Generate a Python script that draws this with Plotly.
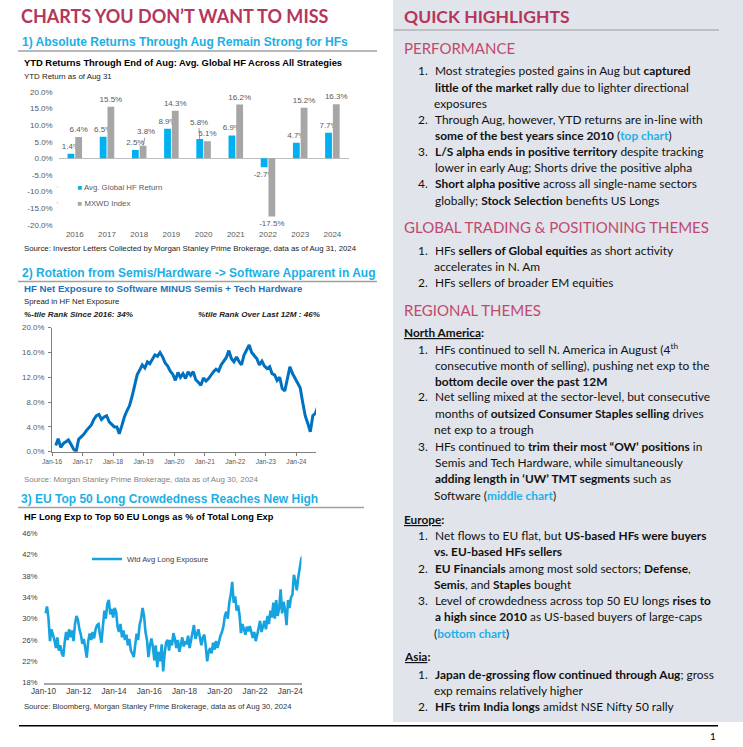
import plotly.graph_objects as go
import pandas as pd

W, H = 743, 747

# ---------------- DATA ----------------
years = ["2016", "2017", "2018", "2019", "2020", "2021", "2022", "2023", "2024"]
hf_return = [1.4, 6.5, 2.5, 8.9, 5.8, 6.9, -2.7, 4.7, 7.7]
mxwd_index = [6.4, 15.5, 3.8, 14.3, 5.1, 16.2, -17.5, 15.2, 16.3]
# labels that sit lifted off their bar with a short leader line (series, year)
lifted_labels = [("hf", "2020"), ("mx", "2018")]

# HF net exposure spread (Software minus Semis+Tech HW), monthly Jan-16 .. Aug-24
spread_values = [
    1.0, 2.1, 0.7, 1.3, 1.6, 1.9, 1.2, 0.4, 0.0, 2.0, 2.4, 2.8,          # 2016
    3.4, 3.9, 4.3, 5.2, 5.8, 6.0, 5.2, 5.6, 5.8, 4.8, 4.4, 4.0,          # 2017
    4.0, 2.9, 4.2, 5.6, 6.6, 7.4, 8.9, 10.8, 12.4, 13.2, 14.0, 13.5,     # 2018
    14.5, 14.2, 15.0, 15.6, 15.4, 16.0, 15.3, 14.3, 13.8, 13.0, 12.5, 11.5,  # 2019
    12.8, 12.0, 12.6, 11.8, 12.9, 12.3, 12.9, 11.6, 11.2, 10.7, 11.9, 11.4,  # 2020
    11.8, 12.4, 12.9, 13.3, 13.0, 14.0, 14.6, 15.2, 16.3, 15.0, 14.5, 15.3,  # 2021
    14.5, 14.0, 15.6, 16.4, 17.2, 16.0, 15.5, 15.0, 14.0, 14.6, 13.8, 13.4,  # 2022
    13.7, 12.6, 12.4, 11.5, 12.0, 10.2, 9.8, 12.0, 13.7, 12.6, 11.8, 11.2,   # 2023
    10.3, 8.0, 5.8, 4.6, 3.2, 5.8, 6.2, 7.4,                                 # 2024
]
spread_start = "2016-01-15"

# Wtd avg long exposure to top-50 EU longs (% of total long exp), monthly Jan-10 .. Aug-24
eu_long_exp = [
    31.0, 32.3, 30.0, 25.8, 28.0, 27.2, 26.0, 24.5, 26.5, 24.0, 25.0, 23.5,  # 2010
    22.9, 25.5, 27.5, 26.0, 28.0, 26.5, 27.8, 25.8, 29.0, 30.5, 29.8, 28.0,  # 2011
    27.0, 25.3, 26.2, 24.5, 22.7, 25.8, 27.2, 26.0, 27.5, 26.3, 28.0, 28.8,  # 2012
    29.0, 27.0, 25.5, 28.5, 31.5, 30.0, 32.8, 33.5, 30.8, 31.8, 30.2, 32.0,  # 2013
    31.2, 28.5, 27.5, 29.0, 26.5, 27.8, 26.0, 27.0, 25.0, 26.2, 24.0, 23.5,  # 2014
    22.8, 25.0, 27.2, 26.0, 28.8, 30.0, 32.0, 30.5, 27.5, 26.0, 22.8, 25.0,  # 2015
    26.3, 24.8, 22.2, 25.0, 20.9, 23.8, 22.0, 25.2, 20.1, 23.5, 25.5, 26.0,  # 2016
    24.0, 26.0, 25.0, 27.3, 26.2, 24.5, 26.0, 23.8, 25.0, 26.5, 24.8, 25.8,  # 2017
    25.2, 26.8, 24.5, 26.0, 27.5, 28.8, 26.2, 27.0, 28.0, 26.5, 25.0, 26.5,  # 2018
    27.0, 25.0, 22.0, 23.8, 24.5, 23.5, 25.5, 24.2, 25.8, 24.5, 26.0, 26.8,  # 2019
    27.5, 28.5, 30.5, 31.3, 30.0, 33.0, 34.5, 36.9, 33.0, 34.2, 31.5, 32.5,  # 2020
    30.5, 27.3, 29.0, 28.2, 27.0, 28.5, 27.6, 28.6, 27.2, 26.4, 27.5, 25.8,  # 2021
    27.0, 28.6, 29.6, 27.5, 28.4, 29.6, 28.0, 30.5, 29.0, 31.5, 30.2, 33.0,  # 2022
    30.0, 33.5, 30.5, 32.0, 35.5, 31.0, 33.2, 31.5, 28.8, 33.5, 32.0, 34.0,  # 2023
    34.5, 38.2, 37.0, 35.3, 37.8, 39.2, 41.3, 41.7,                          # 2024
]
eu_start = "2010-01-15"

chart1_ticks = [-20, -15, -10, -5, 0, 5, 10, 15, 20]
chart2_ticks = [0, 4, 8, 12, 16, 20]
chart3_ticks = [18, 22, 26, 30, 34, 38, 42, 46]

# ---------------- TEXT ----------------
perf_lines = [
    ("1.", "Most strategies posted gains in Aug but <b>captured</b>"),
    ("", "<b>little of the market rally</b> due to lighter directional"),
    ("", "exposures"),
    ("2.", "Through Aug, however, YTD returns are in-line with"),
    ("", "<b>some of the best years since 2010</b> (<b><span style='color:#1FB0E8'>top chart</span></b>)"),
    ("3.", "<b>L/S alpha ends in positive territory</b> despite tracking"),
    ("", "lower in early Aug; Shorts drive the positive alpha"),
    ("4.", "<b>Short alpha positive</b> across all single-name sectors"),
    ("", "globally; <b>Stock Selection</b> benefits US Longs"),
]
perf_y = [71, 87.3, 103.3, 119.3, 135.7, 152, 167.7, 183.7, 200]

glob_lines = [
    ("1.", "HFs <b>sellers of Global equities</b> as short activity"),
    ("", "accelerates in N. Am"),
    ("2.", "HFs sellers of broader EM equities"),
]
glob_y = [250.7, 266.7, 282.7]

na_lines = [
    ("1.", "HFs continued to sell N. America in August (4<sup>th</sup>"),
    ("", "consecutive month of selling), pushing net exp to the"),
    ("", "<b>bottom decile over the past 12M</b>"),
    ("2.", "Net selling mixed at the sector-level, but consecutive"),
    ("", "months of <b>outsized Consumer Staples selling</b> drives"),
    ("", "net exp to a trough"),
    ("3.", "HFs continued to <b>trim their most “OW’ positions</b> in"),
    ("", "Semis and Tech Hardware, while simultaneously"),
    ("", "<b>adding length in ‘UW’ TMT segments</b> such as"),
    ("", "Software (<b><span style='color:#1FB0E8'>middle chart</span></b>)"),
]
na_y = [349.3, 365, 381, 396.7, 413.3, 429.3, 446, 462.7, 478.7, 495]

eu_lines = [
    ("1.", "Net flows to EU flat, but <b>US-based HFs were buyers</b>"),
    ("", "<b>vs. EU-based HFs sellers</b>"),
    ("2.", "<b>EU Financials</b> among most sold sectors; <b>Defense</b>,"),
    ("", "<b>Semis</b>, and <b>Staples</b> bought"),
    ("3.", "Level of crowdedness across top 50 EU longs <b>rises to</b>"),
    ("", "<b>a high since 2010</b> as US-based buyers of large-caps"),
    ("", "(<b><span style='color:#1FB0E8'>bottom chart</span></b>)"),
]
eu_y = [535.7, 551.7, 568.3, 584, 600.7, 616.7, 633.3]

asia_lines = [
    ("1.", "<b>Japan de-grossing flow continued through Aug</b>; gross"),
    ("", "exp remains relatively higher"),
    ("2.", "<b>HFs trim India longs</b> amidst NSE Nifty 50 rally"),
]
asia_y = [674, 690, 706.7]

# ---------------- HELPERS ----------------
def px(x):
    return x / W


def py(y):
    return 1 - y / H


ARIAL = "Liberation Sans, Arial, sans-serif"
BODY = "Lato, sans-serif"
CRIMSON = "#B5365C"
SECTION = "#C04A6E"
BLUE_H = "#1AAFE6"
HF_BLUE = "#00B0F0"
MX_GREY = "#A6A6A6"
LABEL_GREY = "#595959"

annotations = []


def txt(x, y, text, size, color="#000000", family=ARIAL, xanchor="left"):
    annotations.append(dict(
        x=px(x), y=py(y), xref="paper", yref="paper", text=text, showarrow=False,
        xanchor=xanchor, yanchor="middle", align="left", borderpad=0,
        font=dict(size=size, color=color, family=family),
    ))


def bar_labels(key, values):
    out = []
    for yr, v in zip(years, values):
        out.append("" if (key, yr) in lifted_labels else f"{v:.1f}%")
    return out


fig = go.Figure()

# ---------------- CHART 1: bars ----------------
fig.add_trace(go.Bar(
    x=years, y=hf_return, name="Avg. Global HF Return", marker_color=HF_BLUE,
    text=bar_labels("hf", hf_return), textposition="outside",
    textfont=dict(size=8, color=LABEL_GREY, family=ARIAL), constraintext="none",
    cliponaxis=False, showlegend=False, xaxis="x", yaxis="y",
))
fig.add_trace(go.Bar(
    x=years, y=mxwd_index, name="MXWD Index", marker_color=MX_GREY,
    text=bar_labels("mx", mxwd_index), textposition="outside",
    textfont=dict(size=8, color=LABEL_GREY, family=ARIAL), constraintext="none",
    cliponaxis=False, showlegend=False, xaxis="x", yaxis="y",
))
# lifted labels with leader lines, anchored to the bar tops (category index on the x axis)
series_map = {"hf": (hf_return, -3.9, -1, -17), "mx": (mxwd_index, 3.9, 3, -14)}
for key, yr in lifted_labels:
    vals, shift, ax, ay = series_map[key]
    idx = years.index(yr)
    v = vals[idx]
    annotations.append(dict(
        x=idx, y=v, xref="x", yref="y", text=f"{v:.1f}%", showarrow=True,
        arrowhead=0, arrowwidth=0.8, arrowcolor="#7F7F7F", ax=ax, ay=ay, xshift=shift,
        standoff=0, startstandoff=0,
        font=dict(size=8, color=LABEL_GREY, family=ARIAL),
    ))

# legend entries (square key drawn as a glyph right beside the label, as in the original)
fig.add_trace(go.Scatter(x=[None], y=[None], mode="markers",
                         name=f"<span style='color:{HF_BLUE}'>■</span> Avg. Global HF Return",
                         marker=dict(size=0, opacity=0), legend="legend", xaxis="x", yaxis="y"))
fig.add_trace(go.Scatter(x=[None], y=[None], mode="markers",
                         name=f"<span style='color:{MX_GREY}'>■</span> MXWD Index",
                         marker=dict(size=0, opacity=0), legend="legend2", xaxis="x", yaxis="y"))

# ---------------- CHART 2: line ----------------
spread_dates = pd.date_range(spread_start, periods=len(spread_values), freq="MS") + pd.Timedelta(days=14)
fig.add_trace(go.Scatter(
    x=spread_dates, y=spread_values, mode="lines", line=dict(color="#0070C0", width=3),
    showlegend=False, xaxis="x2", yaxis="y2",
))

# ---------------- CHART 3: line ----------------
eu_dates = pd.date_range(eu_start, periods=len(eu_long_exp), freq="MS") + pd.Timedelta(days=14)
fig.add_trace(go.Scatter(
    x=eu_dates, y=eu_long_exp, mode="lines", name="Wtd Avg Long Exposure",
    line=dict(color="#16A3DF", width=2.6), legend="legend3", xaxis="x3", yaxis="y3",
))

tick1 = dict(size=8, color=LABEL_GREY, family=ARIAL)
tick2y = dict(size=7.9, color=LABEL_GREY, family=ARIAL)
tick2x = dict(size=6.6, color=LABEL_GREY, family=ARIAL)

fig.update_layout(
    template="none",
    width=W, height=H, margin=dict(l=0, r=0, t=0, b=0, pad=0, autoexpand=False),
    paper_bgcolor="white", plot_bgcolor="rgba(0,0,0,0)",
    barmode="group", bargap=0.52, bargroupgap=0.12,
    xaxis=dict(domain=[px(58.7), px(348.5)], anchor="y", type="category", automargin=False,
               range=[-0.5, len(years) - 0.5], categoryorder="array", categoryarray=years,
               showgrid=False, showline=False, ticks="", tickfont=tick1, ticklabelstandoff=3),
    yaxis=dict(domain=[py(224.7), py(91.9)], anchor="x", range=[-20, 20], automargin=False,
               tickvals=chart1_ticks, ticktext=[f"{v:.1f}%" for v in chart1_ticks],
               showgrid=False, zeroline=True, zerolinecolor="#BFBFBF", zerolinewidth=1,
               showline=False, ticks="", tickfont=tick1, ticklabelstandoff=5),
    xaxis2=dict(domain=[px(52), px(316)], anchor="y2", type="date", automargin=False,
                range=["2016-01-01", "2024-08-22"], tick0="2016-01-01", dtick="M12",
                tickformat="%b-%y", showgrid=False, showline=True, linecolor="#7F7F7F",
                linewidth=1, ticks="outside", ticklen=3, tickcolor="#7F7F7F",
                tickfont=tick2x),
    yaxis2=dict(domain=[py(451.7), py(327.7)], anchor="x2", range=[0, 20], automargin=False,
                tickvals=chart2_ticks, ticktext=[f"{v:.1f}%" for v in chart2_ticks],
                showgrid=False, zeroline=False, showline=True, linecolor="#7F7F7F",
                linewidth=1, ticks="outside", ticklen=3, tickcolor="#7F7F7F",
                tickfont=tick2y, ticklabelstandoff=2),
    xaxis3=dict(domain=[px(43.5), px(301.5)], anchor="y3", type="date", automargin=False,
                range=["2010-01-01", "2024-08-20"], tick0="2010-01-01", dtick="M24",
                tickformat="%b-%y", showgrid=False, showline=True, linecolor="#A6A6A6",
                linewidth=1.5, ticks="", tickfont=dict(size=8.2, color="#404040", family=ARIAL)),
    yaxis3=dict(domain=[py(682.7), py(533.3)], anchor="x3", range=[18, 46], automargin=False,
                tickvals=chart3_ticks, ticktext=[f"{v}%" for v in chart3_ticks],
                showgrid=False, zeroline=False, showline=False, ticks="",
                tickfont=dict(size=7.6, color="#404040", family=ARIAL), ticklabelstandoff=5),
    legend=dict(x=px(37.5), y=py(187), xanchor="left", yanchor="middle", bgcolor="rgba(0,0,0,0)",
                borderwidth=0, font=dict(size=7.8, color=LABEL_GREY, family=ARIAL), itemwidth=30),
    legend2=dict(x=px(37.5), y=py(202.7), xanchor="left", yanchor="middle", bgcolor="rgba(0,0,0,0)",
                 borderwidth=0, font=dict(size=7.8, color=LABEL_GREY, family=ARIAL), itemwidth=30),
    legend3=dict(x=px(87), y=py(559), xanchor="left", yanchor="middle", bgcolor="rgba(0,0,0,0)",
                 borderwidth=0, font=dict(size=7.6, color="#404040", family=ARIAL), itemwidth=30),
)

# ---------------- SHAPES ----------------
shapes = [
    # right grey panel
    dict(type="rect", xref="paper", yref="paper", x0=px(393), x1=1, y0=py(722), y1=1,
         fillcolor="#E1E4EA", line=dict(width=0), layer="below"),
    # underline Quick highlights
    dict(type="line", xref="paper", yref="paper", x0=px(394), x1=px(719), y0=py(30), y1=py(30),
         line=dict(color="#9A9A9A", width=1)),
    # left section underlines
    dict(type="line", xref="paper", yref="paper", x0=px(18), x1=px(377), y0=py(51), y1=py(51),
         line=dict(color="#A0A0A0", width=1.5)),
    dict(type="line", xref="paper", yref="paper", x0=px(18), x1=px(377), y0=py(281.5), y1=py(281.5),
         line=dict(color="#A0A0A0", width=1.5)),
    dict(type="line", xref="paper", yref="paper", x0=px(18), x1=px(364), y0=py(507.5), y1=py(507.5),
         line=dict(color="#A0A0A0", width=1.5)),
    # bottom black rule
    dict(type="line", xref="paper", yref="paper", x0=px(19), x1=px(718), y0=py(725.7), y1=py(725.7),
         line=dict(color="#000000", width=1.5)),
]
fig.update_layout(shapes=shapes)

# ---------------- LEFT TEXT ----------------
txt(20, 15.5, "<b>CHARTS YOU DON’T WANT TO MISS</b>", 18, CRIMSON, BODY)
txt(21, 42, "<b>1) Absolute Returns Through Aug Remain Strong for HFs</b>", 12, BLUE_H)
txt(22.5, 62, "<b>YTD Returns Through End of Aug: Avg. Global HF Across All Strategies</b>", 9.4)
txt(22.5, 76.7, "YTD Return as of Aug 31", 7.9, "#222222")
txt(22.5, 249, "Source: Investor Letters Collected by Morgan Stanley Prime Brokerage, data as of Aug 31, 2024", 7.8, "#222222")

txt(21, 273.3, "<b>2) Rotation from Semis/Hardware -&gt; Software Apparent in Aug</b>", 12, BLUE_H)
txt(22.5, 288.3, "<b>HF Net Exposure to Software MINUS Semis + Tech Hardware</b>", 9.7, "#2472B8")
txt(22.5, 301.7, "Spread in HF Net Exposure", 7.8, "#222222")
txt(22.5, 314.3, "<b><i>%-tile Rank Since 2016: 34%</i></b>", 8.1, "#222222")
txt(196.5, 314.3, "<b><i>%tile Rank Over Last 12M : 46%</i></b>", 8.1, "#222222")
txt(22.5, 479.3, "Source: Morgan Stanley Prime Brokerage, data as of Aug 30, 2024", 7.9, "#7F7F7F")

txt(20, 499, "<b>3) EU Top 50 Long Crowdedness Reaches New High</b>", 12, BLUE_H)
txt(22.5, 516.7, "<b>HF Long Exp to Top 50 EU Longs as % of Total Long Exp</b>", 9.25)
txt(22.5, 706.7, "Source: Bloomberg, Morgan Stanley Prime Brokerage, data as of Aug 30, 2024", 7.65, "#333333")

txt(713, 736, "1", 10, "#000000", BODY, xanchor="center")

# ---------------- RIGHT TEXT ----------------
txt(403, 16.7, "<b>QUICK HIGHLIGHTS</b>", 17.5, CRIMSON, BODY)
txt(403, 48.3, "PERFORMANCE", 15, SECTION, BODY)
txt(403, 226.7, "GLOBAL TRADING &amp; POSITIONING THEMES", 15, SECTION, BODY)
txt(403, 310, "REGIONAL THEMES", 15, SECTION, BODY)
txt(403, 332.3, "<b><u>North America</u>:</b>", 11.8, "#111111", BODY)
txt(403, 519.3, "<b><u>Europe</u>:</b>", 11.8, "#111111", BODY)
txt(403, 656.7, "<b><u>Asia</u>:</b>", 11.8, "#111111", BODY)

BODY_SIZE = 11.9
for lines, ys in [(perf_lines, perf_y), (glob_lines, glob_y), (na_lines, na_y),
                  (eu_lines, eu_y), (asia_lines, asia_y)]:
    for (num, line), yy in zip(lines, ys):
        if num:
            txt(416.5, yy, num, BODY_SIZE, "#111111", BODY)
        txt(433.5, yy, line, BODY_SIZE, "#111111", BODY)

fig.update_layout(annotations=annotations)

fig.write_html("out.html", config={"displayModeBar": False},
               post_script="document.body.style.margin='0px';")
